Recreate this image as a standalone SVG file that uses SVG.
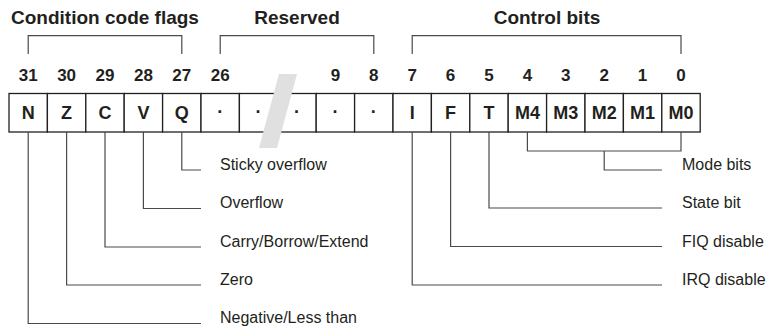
<svg xmlns="http://www.w3.org/2000/svg" width="771" height="328" viewBox="0 0 771 328">
  <style>
    .title { font-family: "Liberation Sans", Arial, sans-serif; font-weight: bold; font-size: 19px; fill: #231f20; text-anchor: middle; }
    .bitno { font-family: "Liberation Sans", Arial, sans-serif; font-weight: bold; font-size: 17px; fill: #231f20; text-anchor: middle; }
    .cell { fill: #ffffff; stroke: #231f20; stroke-width: 1.3; }
    .flag { font-family: "Liberation Sans", Arial, sans-serif; font-weight: bold; font-size: 18px; fill: #231f20; text-anchor: middle; }
    .label { font-family: "Liberation Sans", Arial, sans-serif; font-size: 16px; fill: #231f20; }
    .wire { fill: none; stroke: #4a4a4a; stroke-width: 1.2; }
  </style>

  <!-- group headings with brackets -->
  <g id="heading-condition">
    <text class="title" x="105" y="23.5">Condition code flags</text>
    <path class="wire" d="M28.2,54 V35.7 H181.8 V54"/>
  </g>
  <g id="heading-reserved">
    <text class="title" x="297" y="23.5">Reserved</text>
    <path class="wire" d="M220.2,54 V35.7 H373.8 V54"/>
  </g>
  <g id="heading-control">
    <text class="title" x="547" y="23.5">Control bits</text>
    <path class="wire" d="M412.2,54 V35.7 H681 V54"/>
  </g>

  <!-- bit numbers -->
  <g id="bit-numbers">
    <text class="bitno" x="28.2" y="81">31</text>
    <text class="bitno" x="66.6" y="81">30</text>
    <text class="bitno" x="105" y="81">29</text>
    <text class="bitno" x="143.4" y="81">28</text>
    <text class="bitno" x="181.8" y="81">27</text>
    <text class="bitno" x="220.2" y="81">26</text>
    <text class="bitno" x="335.4" y="81">9</text>
    <text class="bitno" x="373.8" y="81">8</text>
    <text class="bitno" x="412.2" y="81">7</text>
    <text class="bitno" x="450.6" y="81">6</text>
    <text class="bitno" x="489" y="81">5</text>
    <text class="bitno" x="527.4" y="81">4</text>
    <text class="bitno" x="565.8" y="81">3</text>
    <text class="bitno" x="604.2" y="81">2</text>
    <text class="bitno" x="642.6" y="81">1</text>
    <text class="bitno" x="681" y="81">0</text>
  </g>

  <!-- register cells -->
  <g id="bit-N"><rect class="cell" x="9" y="93.5" width="38.4" height="38.5"/><text class="flag" x="28.2" y="119">N</text></g>
  <g id="bit-Z"><rect class="cell" x="47.4" y="93.5" width="38.4" height="38.5"/><text class="flag" x="66.6" y="119">Z</text></g>
  <g id="bit-C"><rect class="cell" x="85.8" y="93.5" width="38.4" height="38.5"/><text class="flag" x="105" y="119">C</text></g>
  <g id="bit-V"><rect class="cell" x="124.2" y="93.5" width="38.4" height="38.5"/><text class="flag" x="143.4" y="119">V</text></g>
  <g id="bit-Q"><rect class="cell" x="162.6" y="93.5" width="38.4" height="38.5"/><text class="flag" x="181.8" y="119">Q</text></g>
  <g id="bit-26"><rect class="cell" x="201" y="93.5" width="38.4" height="38.5"/><text class="flag" x="220.2" y="118">·</text></g>
  <g id="bit-r1"><rect class="cell" x="239.4" y="93.5" width="38.4" height="38.5"/><text class="flag" x="258.6" y="118">·</text></g>
  <g id="bit-r2"><rect class="cell" x="277.8" y="93.5" width="38.4" height="38.5"/><text class="flag" x="297" y="118">·</text></g>
  <g id="bit-9"><rect class="cell" x="316.2" y="93.5" width="38.4" height="38.5"/><text class="flag" x="335.4" y="118">·</text></g>
  <g id="bit-8"><rect class="cell" x="354.6" y="93.5" width="38.4" height="38.5"/><text class="flag" x="373.8" y="118">·</text></g>
  <g id="bit-I"><rect class="cell" x="393" y="93.5" width="38.4" height="38.5"/><text class="flag" x="412.2" y="119">I</text></g>
  <g id="bit-F"><rect class="cell" x="431.4" y="93.5" width="38.4" height="38.5"/><text class="flag" x="450.6" y="119">F</text></g>
  <g id="bit-T"><rect class="cell" x="469.8" y="93.5" width="38.4" height="38.5"/><text class="flag" x="489" y="119">T</text></g>
  <g id="bit-M4"><rect class="cell" x="508.2" y="93.5" width="38.4" height="38.5"/><text class="flag" x="527.4" y="119">M4</text></g>
  <g id="bit-M3"><rect class="cell" x="546.6" y="93.5" width="38.4" height="38.5"/><text class="flag" x="565.8" y="119">M3</text></g>
  <g id="bit-M2"><rect class="cell" x="585" y="93.5" width="38.4" height="38.5"/><text class="flag" x="604.2" y="119">M2</text></g>
  <g id="bit-M1"><rect class="cell" x="623.4" y="93.5" width="38.4" height="38.5"/><text class="flag" x="642.6" y="119">M1</text></g>
  <g id="bit-M0"><rect class="cell" x="661.8" y="93.5" width="38.4" height="38.5"/><text class="flag" x="681" y="119">M0</text></g>

  <!-- break mark across the reserved range -->
  <polygon id="break-mark" points="279,74 297,74 277,148 259,148" fill="#e0e0e0"/>

  <!-- leader lines from each bit to its description -->
  <g id="connectors">
    <path class="wire" d="M181.8,132 V170 H201"/>
    <path class="wire" d="M143.4,132 V208.5 H201"/>
    <path class="wire" d="M105,132 V247 H201"/>
    <path class="wire" d="M66.6,132 V285 H201"/>
    <path class="wire" d="M28.2,132 V323.5 H201"/>
    <path class="wire" d="M527.4,132 V151 H681 V132"/>
    <path class="wire" d="M604.2,151 V170 H662"/>
    <path class="wire" d="M489,132 V208 H662"/>
    <path class="wire" d="M450.6,132 V246.5 H662"/>
    <path class="wire" d="M412.2,132 V285 H662"/>
  </g>

  <!-- descriptions -->
  <g id="labels">
    <text class="label" x="220" y="169.5">Sticky overflow</text>
    <text class="label" x="220" y="208">Overflow</text>
    <text class="label" x="220" y="246.5">Carry/Borrow/Extend</text>
    <text class="label" x="220" y="285">Zero</text>
    <text class="label" x="220" y="323">Negative/Less than</text>
    <text class="label" x="682" y="169.5">Mode bits</text>
    <text class="label" x="682" y="208">State bit</text>
    <text class="label" x="682" y="246.5">FIQ disable</text>
    <text class="label" x="682" y="285">IRQ disable</text>
  </g>
</svg>
